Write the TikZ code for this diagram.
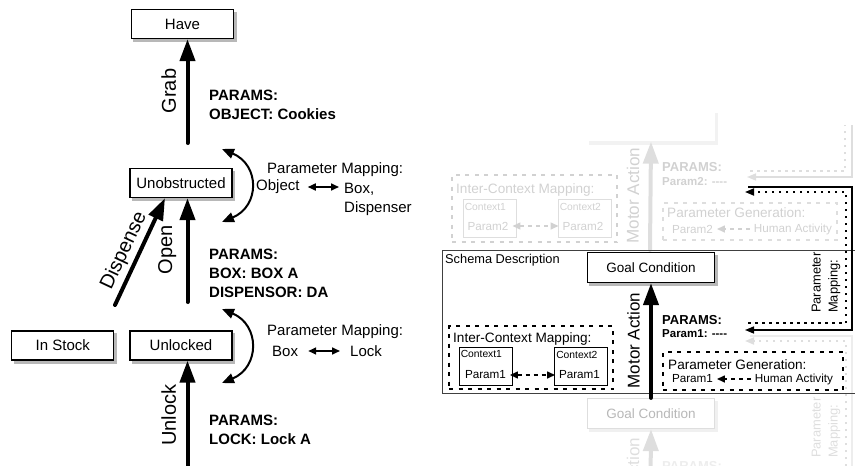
\documentclass[tikz,border=0pt]{standalone}
\usepackage{fontspec}
\setmainfont{Liberation Sans}
\usetikzlibrary{positioning,arrows.meta,calc,backgrounds}

\newcommand{\fsz}[2]{\fontsize{#1}{#2}\selectfont}
\colorlet{fadeA}{black!18}
\colorlet{fadeB}{black!13}
\colorlet{fadeC}{black!7}

\begin{document}
\begin{tikzpicture}[
  x=1pt, y=-1pt,
  cond/.style={draw, line width=1.2pt, fill=white, minimum width=102pt,
               minimum height=29pt, inner sep=0pt, font=\fsz{15}{18}},
  goalbox/.style={draw, line width=1.2pt, fill=white, minimum width=127pt,
               minimum height=30pt, inner sep=0pt, font=\fsz{13.5}{16}},
  act/.style={line width=4pt, line cap=round, -{Triangle[length=22pt,width=15pt]}},
  actlbl/.style={midway, sloped, above=6pt, font=\fsz{20}{24}},
  params/.style={anchor=north west, align=left, inner sep=2pt, font=\bfseries\fsz{15}{19}},
  txt/.style={anchor=west, inner sep=2pt, font=\fsz{15}{19}},
  remap/.style={line width=2pt, {Triangle[length=12pt,width=10pt]}-{Triangle[length=12pt,width=10pt]}},
  pairarr/.style={line width=1.6pt, {Triangle[length=8pt,width=7pt]}-{Triangle[length=8pt,width=7pt]}},
  % schema side
  mlbl/.style={midway, sloped, above=6pt, font=\fsz{17}{20}},
  ptitle/.style={anchor=west, inner sep=1pt, font=\bfseries\fsz{13}{16}},
  pval/.style={anchor=west, inner sep=1pt, font=\bfseries\fsz{11.5}{14}},
  dotbox/.style={draw, line width=2.5pt, dash pattern=on 4pt off 5.5pt, inner sep=0pt},
  boxtitle/.style={anchor=west, inner sep=1pt, font=\fsz{13.6}{16}},
  ctx/.style={draw, line width=0.9pt, inner sep=0pt, minimum width=53pt, minimum height=38pt},
  ctxlbl/.style={inner sep=0pt, font=\fsz{10.3}{12}},
  plbl/.style={inner sep=3.8pt, font=\fsz{11.7}{14}},
  dlink/.style={line width=1.5pt, dash pattern=on 4pt off 4pt,
                {Triangle[length=8pt,width=7pt]}-{Triangle[length=8pt,width=7pt]}},
  glink/.style={line width=1.5pt, dash pattern=on 4pt off 4pt, -{Triangle[length=8pt,width=7pt]}},
  maprot/.style={rotate=90, anchor=west, align=left, inner sep=1pt, font=\fsz{12.9}{17}},
  solidmap/.style={line width=1.5pt, -{Triangle[length=9pt,width=7pt]}},
  dotmap/.style={line width=1.8pt, dash pattern=on 2.5pt off 4.5pt, -{Triangle[length=9pt,width=7pt]}},
]
\useasboundingbox (0,0) rectangle (855,466);
\clip (0,0) rectangle (855,466);

% ---- left: plan of actions
\node[cond] (have)  at (182.5,24)  {Have};
\node[cond] (unob)  at (181,183)   {Unobstructed};
\node[cond] (unlk)  at (181,345.5) {Unlocked};
\node[cond, left=15pt of unlk] (stock) {In Stock};

\coordinate (grabtail) at (187.5,143);
\coordinate (opentail) at (187.5,302);
\coordinate (disptail) at (115,305);
\coordinate (unlktail) at (187.5,470);

\draw[act] (grabtail) -- node[actlbl] (grablbl) {Grab} (grabtail |- have.south);
\draw[act] (opentail) -- node[actlbl] (openlbl) {Open} (opentail |- unob.south);
\draw[act] (disptail) -- node[actlbl, above=0pt, pos=0.45] (displbl) {Dispense} ($(unob.south)+(-16,0)$);
\draw[act] (unlktail) -- node[actlbl] (unlklbl) {Unlock} (unlktail |- unlk.south);

\node[params] (grabpar) at (207,87.6)  {PARAMS:\\OBJECT: Cookies};
\node[params] (openpar) at (207,246.6) {PARAMS:\\BOX: BOX A\\DISPENSOR: DA};
\node[params] (unlkpar) at (207,412.6) {PARAMS:\\LOCK: Lock A};

\coordinate (m1a) at (222,149);
\coordinate (m1b) at (222,222);
\coordinate (m2a) at (222,309);
\coordinate (m2b) at (222,383);
\draw[remap] (m1a) .. controls (260,165) and (260,206) .. (m1b);
\draw[remap] (m2a) .. controls (260,325) and (260,367) .. (m2b);

\node[txt] (map1) at (265,170) {Parameter Mapping:};
\node[txt] (obj)  at (254,187) {Object};
\node[txt, anchor=north west, align=left] (boxd) at (342,180.5) {Box,\\Dispenser};
\draw[pairarr, shorten <=6pt, shorten >=3pt] (obj.east) -- (obj.east -| boxd.west);

\node[txt] (map2) at (265,332) {Parameter Mapping:};
\node[txt] (boxm) at (270,351) {Box};
\node[txt] (lock) at (348,351) {Lock};
\draw[pairarr, shorten <=8pt, shorten >=8pt] (boxm.east) -- (lock.west);

% ---- right: faded schema above
\node[goalbox, draw=none, text=white] (ugoal) at (651,126) {Goal Condition};
\coordinate (ubase) at (650,250);
\draw[act, fadeB] (ubase) -- node[mlbl, fadeA] (umact) {Motor Action} (ugoal.south);
\node[ptitle, fadeA] (upt) at (661,167) {PARAMS:};
\node[pval, fadeA] (upv) at (661,182) {Param2: {-}{-}{-}{-}};

\node[dotbox, draw=fadeA, minimum width=165pt, minimum height=67pt] (uicm) at (534.5,208.5) {};
\node[boxtitle, fadeA] (uicmt) at (455,190) {Inter-Context Mapping:};
\node[ctx, draw=fadeB] (uc1) at (489.5,218.5) {};
\node[ctx, draw=fadeB] (uc2) at (584.5,218.5) {};
\node[ctxlbl, fadeA, below right=4pt and 2pt of uc1.north west] (uc1t) {Context1};
\node[ctxlbl, fadeA, below right=4pt and 2pt of uc2.north west] (uc2t) {Context2};
\node[plbl, fadeA] (up2a) at (488,226) {Param2};
\node[plbl, fadeA] (up2b) at (583,226) {Param2};
\draw[dlink, fadeA] (up2a) -- (up2b);

\node[dotbox, draw=fadeB, minimum width=174pt, minimum height=37pt] (upgen) at (750,221.5) {};
\node[boxtitle, fadeA] (upgt) at (666,213) {Parameter Generation:};
\node[plbl, fadeA, anchor=west] (upg2) at (668,229) {Param2};
\node[plbl, fadeA, anchor=east] (uhum) at (836,229) {Human Activity};
\draw[glink, fadeA] (uhum) -- (upg2);

\coordinate (uout) at (750,171);
\coordinate (uin)  at (747,177);
\draw[dotmap, -, fadeB] (uout) -| (845,125);
\draw[solidmap, fadeB] (852,125) |- (uin);

% ---- right: faded schema below
\node[goalbox, draw=fadeB, text=black!28] (lgoal) at (651,413.5) {Goal Condition};
\coordinate (lbase) at (650,542);
\draw[act, fadeB] (lbase) -- node[mlbl, fadeB] (lmact) {Motor Action} (lgoal.south);
\node[ptitle, fadeC] (lpt) at (661,466) {PARAMS:};
\node[maprot, fadeB] (lpmap) at (826,459) {Parameter\\Mapping:};

\coordinate (lout) at (750,336);
\coordinate (lin)  at (745,341);
\draw[solidmap, -, fadeC] (lout) -| (852,480);
\draw[dotmap, fadeB] (846,480) |- (lin);

% ---- right: schema description
\draw[black!75, line width=0.8pt] (855,250) -| (442,393) -- (855,393);
\node[anchor=west, inner sep=1pt, font=\fsz{12.8}{15}] (sdesc) at (444,260) {Schema Description};
\node[goalbox] (goal) at (651,267.5) {Goal Condition};
\draw[act] (lgoal.north -| goal.south) -- node[mlbl] (mact) {Motor Action} (goal.south);

\node[ptitle] (pt1) at (661,320) {PARAMS:};
\node[pval]   (pv1) at (661,334) {Param1: {-}{-}{-}{-}};

\node[dotbox, minimum width=164pt, minimum height=63pt] (icm) at (531,357.5) {};
\node[boxtitle] (icmt) at (452,339) {Inter-Context Mapping:};
\node[ctx] (c1) at (485.5,366) {};
\node[ctx] (c2) at (581,366.5) {};
\node[ctxlbl, below right=4pt and 2pt of c1.north west] (c1t) {Context1};
\node[ctxlbl, below right=4pt and 2pt of c2.north west] (c2t) {Context2};
\node[plbl] (p1a) at (485.5,375) {Param1};
\node[plbl] (p1b) at (579.5,375) {Param1};
\draw[dlink] (p1a) -- (p1b);

\node[dotbox, minimum width=180pt, minimum height=38pt] (pgen) at (753,371) {};
\node[boxtitle] (pgt) at (667,364.5) {Parameter Generation:};
\node[plbl, anchor=west] (pg1) at (668,379) {Param1};
\node[plbl, anchor=east] (hum) at (837,379) {Human Activity};
\draw[glink] (hum) -- (pg1);

\node[maprot] (pmap) at (826,314) {Parameter\\Mapping:};

\coordinate (outA) at (748,187);
\coordinate (inA)  at (745,330);
\coordinate (outB) at (748,323);
\coordinate (inB)  at (745,192);
\draw[solidmap] (outA) -| (852,330) -- (inA);
\draw[dotmap] (outB) -| (846,192) -- (inB);

% shadows under the boxes
\begin{scope}[on background layer]
  \foreach \b in {have,unob,unlk,stock,goal}
    \fill[black!28] ($(\b.south west)+(2.5,3)$) rectangle ($(\b.north east)+(2.5,3)$);
  \fill[black!6] ($(lgoal.south west)+(2.5,3)$) rectangle ($(lgoal.north east)+(2.5,3)$);
  \fill[black!5] ($(ugoal.south west)+(2.5,3)$) rectangle ($(ugoal.north east)+(2.5,3)$);
\end{scope}
\end{tikzpicture}
\end{document}
